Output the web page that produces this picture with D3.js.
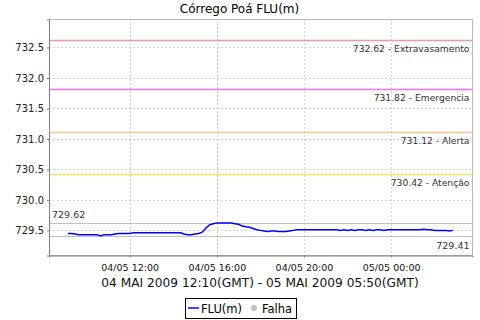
<!DOCTYPE html>
<html><head><meta charset="utf-8">
<script src="https://cdn.jsdelivr.net/npm/d3@7"></script>
<style>
body{margin:0;background:#fff;}
svg{display:block;font-family:"DejaVu Sans",sans-serif;}
</style></head>
<body><svg id="c" width="480" height="320"></svg>
<script>
const title = "Córrego Poá FLU(m)";
const subtitle = "04 MAI 2009 12:10(GMT) - 05 MAI 2009 05:50(GMT)";
const seriesName = "FLU(m)";
const failName = "Falha";
const startTime = "2009-05-04T09:10:00Z";
const stepMinutes = 10;
const fluValues = [
 729.45,729.45,729.44,729.43,729.43,729.43,729.43,729.43,729.43,729.41,
 729.43,729.43,729.43,729.44,729.45,729.45,729.45,729.45,
 729.46,729.46,729.46,729.46,729.46,729.46,729.46,729.46,729.46,729.46,729.46,729.46,729.46,729.46,
 729.44,729.43,729.43,729.44,729.45,729.47,729.54,729.59,729.61,729.62,
 729.62,729.62,729.62,729.62,729.61,729.60,729.57,729.56,729.55,729.53,
 729.51,729.50,729.49,729.48,729.49,729.49,729.48,729.48,729.48,729.49,729.50,
 729.51,729.51,729.51,729.51,729.51,729.51,729.51,729.51,729.51,729.51,729.51,729.51,
 729.50,729.51,729.50,729.51,729.50,729.51,729.51,729.50,729.51,729.50,729.51,729.51,729.50,729.51,
 729.51,729.51,729.51,729.51,729.51,729.51,729.51,729.51,729.51,
 729.52,729.51,729.51,729.50,729.50,729.50,729.50,729.49,729.50
];
const markerValues = [732.62, 731.82, 731.12, 730.42];
const markerNames = ["Extravasamento", "Emergencia", "Alerta", "Atenção"];
const markerColors = ["#ee9a9a", "#ff6eff", "#f6c494", "#f8e070"];
const maxValue = 729.62;
const minValue = 729.41;
const yTicks = [729.5, 730.0, 730.5, 731.0, 731.5, 732.0, 732.5];
const xTicks = ["2009-05-04T12:00:00Z","2009-05-04T16:00:00Z","2009-05-04T20:00:00Z","2009-05-05T00:00:00Z"];
const xDomain = ["2009-05-04T08:18:00Z","2009-05-05T03:44:00Z"];
const yDomain = [729.088, 732.962];

const svg = d3.select("#c");
const L = 49, R = 472.5, T = 19.3, B = 255.5;
const x = d3.scaleUtc().domain(xDomain.map(d => new Date(d))).range([L, R]);
const y = d3.scaleLinear().domain(yDomain).range([B, T]);
const t0 = new Date(startTime);
const data = fluValues.map((v, i) => ({t: d3.utcMinute.offset(t0, i * stepMinutes), v}));

// title
svg.append("text").attr("x", 239.5).attr("y", 12.5).attr("text-anchor", "middle")
  .attr("font-size", 12).attr("fill", "#000").text(title);

// gridlines
const g = svg.append("g").attr("shape-rendering", "crispEdges");
g.selectAll(".gy").data(yTicks).join("line")
  .attr("x1", L).attr("x2", R).attr("y1", d => Math.round(y(d)) + 0.5).attr("y2", d => Math.round(y(d)) + 0.5)
  .attr("stroke", "#d4d4d4").attr("stroke-dasharray", "2,2");
g.selectAll(".gx").data(xTicks.map(d => new Date(d))).join("line")
  .attr("y1", T).attr("y2", B).attr("x1", d => Math.round(x(d)) + 0.5).attr("x2", d => Math.round(x(d)) + 0.5)
  .attr("stroke", "#d4d4d4").attr("stroke-dasharray", "2,2");

// plot outline
svg.append("rect").attr("x", L + 0.5).attr("y", Math.round(T) + 0.5).attr("width", R - L - 0.5).attr("height", Math.round(B - T))
  .attr("fill", "none").attr("stroke", "#b8b8b8").attr("shape-rendering", "crispEdges");

// markers
const mk = svg.append("g");
markerValues.forEach((v, i) => {
  const yy = Math.round(y(v)) + 0.5;
  mk.append("line").attr("x1", L).attr("x2", R).attr("y1", yy).attr("y2", yy)
    .attr("stroke", markerColors[i]).attr("stroke-width", 1.4);
  mk.append("text").attr("x", 469.5).attr("y", yy + 11.5).attr("text-anchor", "end")
    .attr("font-size", 9.2).attr("fill", "#333").text(d3.format(".2f")(v) + " - " + markerNames[i]);
});
const yMax = Math.round(y(maxValue)) + 0.5, yMin = Math.round(y(minValue)) + 0.5;
mk.append("line").attr("x1", L).attr("x2", R).attr("y1", yMax).attr("y2", yMax).attr("stroke", "#c0c0c0").attr("shape-rendering", "crispEdges");
mk.append("line").attr("x1", L).attr("x2", R).attr("y1", yMin).attr("y2", yMin).attr("stroke", "#c0c0c0").attr("shape-rendering", "crispEdges");
mk.append("text").attr("x", 52).attr("y", yMax - 5.5).attr("font-size", 9.5).attr("fill", "#333").text(d3.format(".2f")(maxValue));
mk.append("text").attr("x", 469.5).attr("y", yMin + 12.5).attr("text-anchor", "end").attr("font-size", 9.5).attr("fill", "#333").text(d3.format(".2f")(minValue));

// data line
svg.append("path").datum(data)
  .attr("d", d3.line().x(d => x(d.t)).y(d => y(d.v)))
  .attr("fill", "none").attr("stroke", "#0000ff").attr("stroke-width", 1.5);

// y axis
const ya = svg.append("g").attr("transform", `translate(${L},0)`)
  .call(d3.axisLeft(y).tickValues(yTicks).tickFormat(d3.format(".1f")).tickSize(2).tickPadding(3));
ya.select(".domain").attr("stroke", "#808080");
ya.selectAll(".tick line").attr("stroke", "#808080");
ya.selectAll("text").attr("font-size", 10).attr("fill", "#222").attr("font-family", "DejaVu Sans");

// x axis
const xa = svg.append("g").attr("transform", `translate(0,${B})`)
  .call(d3.axisBottom(x).tickValues(xTicks.map(d => new Date(d))).tickFormat(d3.utcFormat("%d/%m %H:%M")).tickSize(2).tickPadding(7));
xa.select(".domain").attr("stroke", "#808080");
xa.selectAll(".tick line").attr("stroke", "#808080");
xa.selectAll("text").attr("font-size", 9.5).attr("fill", "#111").attr("font-family", "DejaVu Sans");

// subtitle
svg.append("text").attr("x", 260).attr("y", 287).attr("text-anchor", "middle")
  .attr("font-size", 12.2).attr("fill", "#111").text(subtitle);

// legend
const lg = svg.append("g");
lg.append("rect").attr("x", 185.5).attr("y", 298.5).attr("width", 111).attr("height", 20)
  .attr("fill", "#fff").attr("stroke", "#000");
lg.append("line").attr("x1", 188).attr("x2", 199).attr("y1", 308).attr("y2", 308).attr("stroke", "#0000ff").attr("stroke-width", 1.5);
lg.append("text").attr("x", 201).attr("y", 312.5).attr("font-size", 11.5).attr("fill", "#000").text(seriesName);
lg.append("circle").attr("cx", 254).attr("cy", 308).attr("r", 3).attr("fill", "#c0c0c0");
lg.append("text").attr("x", 262).attr("y", 312.5).attr("font-size", 11.5).attr("fill", "#000").text(failName);
</script></body></html>
